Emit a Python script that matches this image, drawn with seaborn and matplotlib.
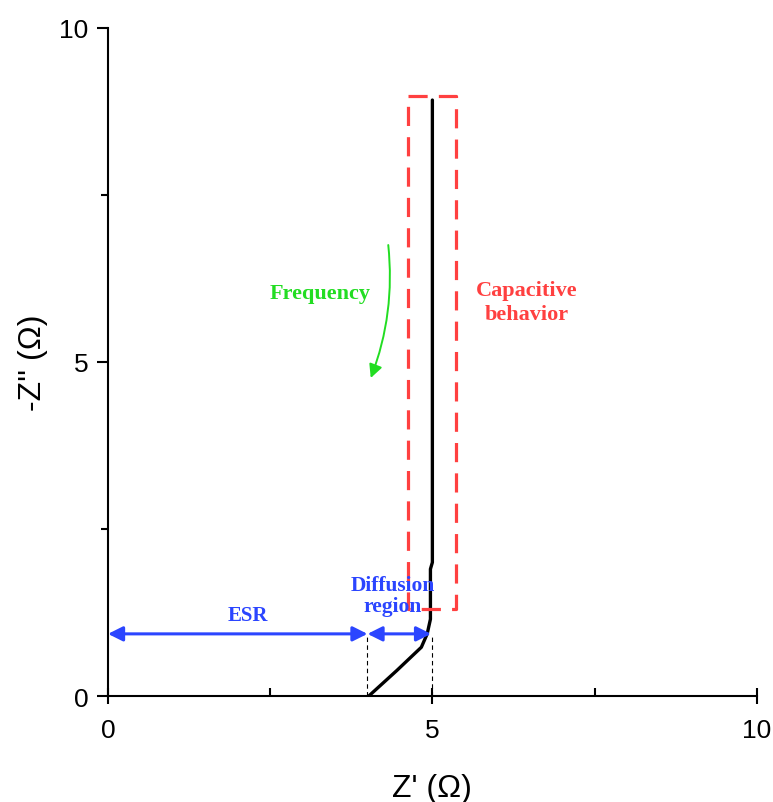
import numpy as np
import pandas as pd
import matplotlib
matplotlib.use("Agg")
import matplotlib.pyplot as plt
import seaborn as sns
from matplotlib.ticker import MultipleLocator

# Nyquist curve
z_real = [4.02, 4.45, 4.83, 4.92, 4.97, 4.97, 5.00, 5.00]
z_imag = [0.00, 0.38, 0.73, 0.93, 1.15, 1.90, 2.00, 8.92]

# annotation geometry in data units
esr_value = 4.0
diff_end = 4.98
arrow_y = 0.93
cap_box = [4.62, 1.30, 5.36, 8.98]   # x0, y0, x1, y1

df = pd.DataFrame({"zr": z_real, "zi": z_imag})

sns.set_style("ticks")
plt.rcParams['font.family'] = ['Liberation Sans', 'DejaVu Sans']
plt.rcParams['text.color'] = 'black'
plt.rcParams['axes.labelcolor'] = 'black'
plt.rcParams['xtick.color'] = 'black'
plt.rcParams['ytick.color'] = 'black'

fig = plt.figure(figsize=(7.73, 8.03), dpi=100)
ax = fig.add_axes([0.1397, 0.132, 0.8393, 0.832])

sns.lineplot(data=df, x="zr", y="zi", sort=False, estimator=None,
             errorbar=None, color="black", lw=2.4, ax=ax)

# capacitive box
x0, y0, x1, y1 = cap_box
ax.plot([x0, x1, x1, x0, x0], [y1, y1, y0, y0, y1], ls=(0, (6, 3.5)),
         color="#ff4040", lw=2.3)

# vertical guide lines
for xv in [esr_value, 5.0]:
    ax.plot([xv, xv], [0, arrow_y], ls=(0, (4, 3)), color="black", lw=0.8)

blue = "#2b45ff"
green = "#22dd22"
red = "#ff4040"
ax.annotate("", xy=(0.0, arrow_y), xytext=(esr_value, arrow_y),
            arrowprops=dict(arrowstyle="<|-|>", color=blue, lw=2.2,
                            mutation_scale=22, shrinkA=0, shrinkB=0))
ax.annotate("", xy=(esr_value, arrow_y), xytext=(diff_end, arrow_y),
            arrowprops=dict(arrowstyle="<|-|>", color=blue, lw=2.2,
                            mutation_scale=22, shrinkA=0, shrinkB=0))

serif = ['Liberation Serif', 'DejaVu Serif']
ax.text(2.16, 1.21, "ESR", color=blue, fontsize=15, fontweight="bold",
        family=serif, ha="center", va="center")
ax.text(4.39, 1.5, "Diffusion\nregion", color=blue, fontsize=15.5,
        fontweight="bold", family=serif, ha="center", va="center",
        linespacing=1.05)
ax.text(3.27, 6.03, "Frequency", color=green, fontsize=16,
        fontweight="bold", family=serif, ha="center", va="center")
ax.text(6.46, 5.9, "Capacitive\nbehavior", color=red, fontsize=16,
        fontweight="bold", family=serif, ha="center", va="center",
        linespacing=1.25)

# frequency arrow
ax.annotate("", xy=(4.05, 4.76), xytext=(4.32, 6.75),
            arrowprops=dict(arrowstyle="-|>", color=green, lw=1.4,
                            mutation_scale=20, shrinkA=0, shrinkB=0,
                            connectionstyle="arc3,rad=-0.12"))

ax.set_xlim(0, 10)
ax.set_ylim(0, 10)
ax.xaxis.set_major_locator(MultipleLocator(5))
ax.xaxis.set_minor_locator(MultipleLocator(2.5))
ax.yaxis.set_major_locator(MultipleLocator(5))
ax.yaxis.set_minor_locator(MultipleLocator(2.5))
ax.tick_params(axis="x", which="major", direction="inout", length=12, width=1.5,
               labelsize=19, pad=10)
ax.tick_params(axis="x", which="minor", direction="in", length=6, width=1.5)
ax.tick_params(axis="y", which="major", direction="out", length=8, width=1.5,
               labelsize=19, pad=6)
ax.tick_params(axis="y", which="minor", direction="out", length=5, width=1.5)
sns.despine(ax=ax)
for s in ["left", "bottom"]:
    ax.spines[s].set_linewidth(1.5)
    ax.spines[s].set_color("black")

ax.set_xlabel("Z' (Ω)", fontsize=23, labelpad=22)
ax.set_ylabel("-Z'' (Ω)", fontsize=23, labelpad=8)

fig.savefig("out.png", dpi=100, facecolor="white")
